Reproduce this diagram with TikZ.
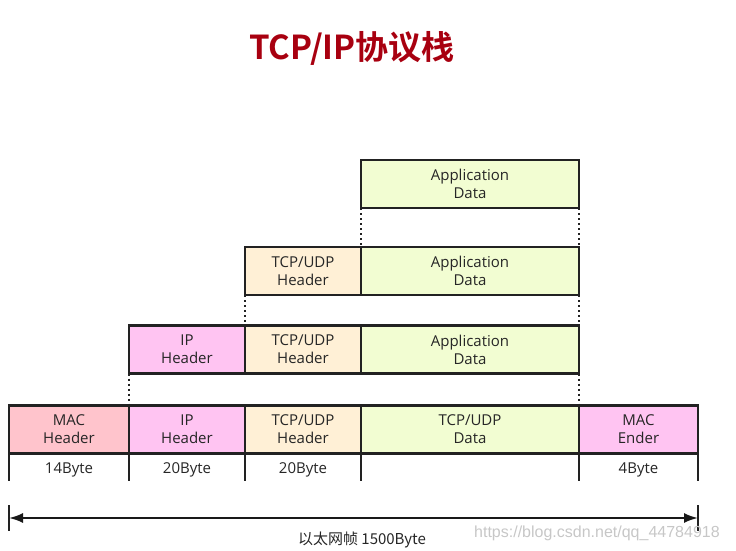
\documentclass[tikz,border=0pt]{standalone}
\usepackage{fontspec}
\setmainfont{Open Sans}
\newfontfamily\cjkfont{Noto Sans CJK SC}
\newfontfamily\cjkbold{Noto Sans CJK SC Bold}
\newfontfamily\urlfont{Liberation Sans}
\usetikzlibrary{arrows.meta}
\definecolor{titlered}{HTML}{A80010}
\definecolor{macred}{HTML}{FFC4CC}
\definecolor{ippink}{HTML}{FFC4F2}
\definecolor{tcppeach}{HTML}{FFF0D6}
\definecolor{applime}{HTML}{F2FDD2}
\definecolor{edge}{HTML}{222222}
\tikzset{
  box/.style={draw=edge, line width=2.2pt, minimum height=48pt, inner sep=0pt, outer sep=0pt,
    align=center, font={\fontsize{15}{18}\selectfont}, text=black!85},
  dots/.style={draw=edge, line width=2.2pt, dash pattern=on 2pt off 3pt},
  tick/.style={draw=edge, line width=2.2pt},
  lbl/.style={font={\fontsize{15}{18}\selectfont}, text=black!85, inner sep=0pt}
}
\begin{document}
\begin{tikzpicture}[x=1pt,y=-1pt]
\useasboundingbox (0,0) rectangle (736,551);
\node[font={\fontsize{33}{38}\selectfont\cjkbold}, text=titlered] (title) at (352,48) {TCP/IP协议栈};
% row 1
\node[box, fill=applime, minimum width=218pt] (r1d) at (470,184) {Application\\Data};
% row 2
\node[box, fill=tcppeach, minimum width=116pt] (r2h) at (303,271) {TCP/UDP\\Header};
\node[box, fill=applime, minimum width=218pt] (r2d) at (470,271) {Application\\Data};
% row 3
\node[box, fill=ippink, minimum width=116pt] (r3ip) at (187,349.5) {IP\\Header};
\node[box, fill=tcppeach, minimum width=116pt] (r3h) at (303,349.5) {TCP/UDP\\Header};
\node[box, fill=applime, minimum width=218pt] (r3d) at (470,349.5) {Application\\Data};
% row 4
\node[box, fill=macred, minimum width=120pt] (r4mac) at (69,429.5) {MAC\\Header};
\node[box, fill=ippink, minimum width=116pt] (r4ip) at (187,429.5) {IP\\Header};
\node[box, fill=tcppeach, minimum width=116pt] (r4h) at (303,429.5) {TCP/UDP\\Header};
\node[box, fill=applime, minimum width=218pt] (r4d) at (470,429.5) {TCP/UDP\\Data};
\node[box, fill=ippink, minimum width=119pt] (r4end) at (638.5,429.5) {MAC\\Ender};
% dotted connectors
\draw[dots] (r1d.south west) -- (r2d.north west);
\draw[dots] (r1d.south east) -- (r2d.north east);
\draw[dots] (r2h.south west) -- (r3h.north west);
\draw[dots] (r2d.south east) -- (r3d.north east);
\draw[dots] (r3ip.south west) -- (r4ip.north west);
\draw[dots] (r3d.south east) -- (r4d.north east);
% size ticks
\coordinate (t1) at (9,481);
\coordinate (t2) at (129,481);
\coordinate (t3) at (245,481);
\coordinate (t4) at (361,481);
\coordinate (t5) at (579,481);
\coordinate (t6) at (698,481);
\draw[tick] (r4mac.south west) -- (t1);
\draw[tick] (r4ip.south west) -- (t2);
\draw[tick] (r4h.south west) -- (t3);
\draw[tick] (r4d.south west) -- (t4);
\draw[tick] (r4end.south west) -- (t5);
\draw[tick] (r4end.south east) -- (t6);
\node[lbl] (s1) at (69,470) {14Byte};
\node[lbl] (s2) at (187,470) {20Byte};
\node[lbl] (s3) at (303,470) {20Byte};
\node[lbl] (s5) at (638.5,470) {4Byte};
% overall arrow
\coordinate (la) at (9,505);
\coordinate (lb) at (9,531);
\coordinate (ra) at (698,505);
\coordinate (rb) at (698,531);
\coordinate (L) at (9,518);
\coordinate (R) at (698,518);
\draw[tick] (la) -- (lb);
\draw[tick] (ra) -- (rb);
\draw[draw=black!90, line width=2pt, {Latex[length=14pt,width=10pt]}-{Latex[length=14pt,width=10pt]}] (L) -- (R);
\node[font={\fontsize{15}{18}\selectfont\cjkfont}, text=black!85] (total) at (362,540) {以太网帧 1500Byte};
\node[font={\fontsize{16}{18}\selectfont\urlfont}, text=black!22, anchor=west, inner sep=0pt] (url) at (474,533) {https://blog.csdn.net/qq\_44784918};
\end{tikzpicture}
\end{document}
